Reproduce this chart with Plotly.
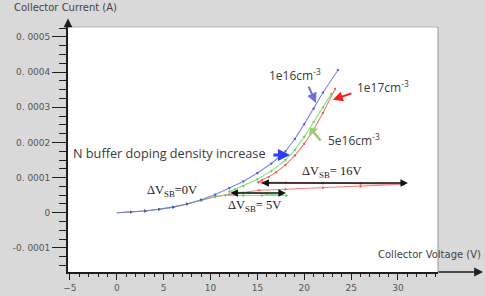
import plotly.graph_objects as go

# ---- data ----
blue_v = [0, 1.5, 3, 4.5, 6, 7.5, 9, 10.5, 12, 13.5, 15, 16.5, 18, 19, 20, 21, 22, 23.6]
blue_i = [0, 0.2e-5, 0.5e-5, 1.0e-5, 1.6e-5, 2.5e-5, 3.7e-5, 5.2e-5, 7.0e-5, 8.9e-5,
          11.3e-5, 14.0e-5, 17.5e-5, 21.0e-5, 25.2e-5, 29.6e-5, 34.2e-5, 40.6e-5]

green_v = [0, 1.5, 3, 4.5, 6, 7.5, 9, 10.5, 11.6, 13.5, 15.5, 18.1, 16, 14, 12,
           12.6, 13.5, 15, 16.5, 18, 19, 20, 21, 22, 22.9]
green_i = [0, 0.2e-5, 0.5e-5, 1.0e-5, 1.6e-5, 2.5e-5, 3.6e-5, 4.7e-5, 5.0e-5, 4.9e-5,
           4.9e-5, 4.9e-5, 5.4e-5, 5.7e-5, 6.0e-5, 6.7e-5, 7.6e-5, 9.5e-5, 11.9e-5,
           15.0e-5, 17.9e-5, 21.6e-5, 25.8e-5, 30.0e-5, 33.8e-5]

red_v = [0, 1.5, 3, 4.5, 6, 7.5, 9, 10.5, 12, 13.5, 15.2, 18, 22, 26, 30.6, 26, 22,
         18, 15.5, 15.1, 15.5, 16.2, 17, 18, 19, 20, 21, 22, 23.3]
red_i = [0, 0.2e-5, 0.5e-5, 1.0e-5, 1.6e-5, 2.5e-5, 3.6e-5, 4.6e-5, 5.2e-5, 5.7e-5,
         6.4e-5, 6.7e-5, 7.1e-5, 7.5e-5, 8.1e-5, 8.3e-5, 8.4e-5, 8.5e-5, 8.5e-5,
         8.7e-5, 9.3e-5, 10.2e-5, 11.5e-5, 13.6e-5, 16.3e-5, 19.6e-5, 23.6e-5,
         28.4e-5, 35.2e-5]

x_ticks = [-5, 0, 5, 10, 15, 20, 25, 30]
y_ticks = [-0.0001, 0, 0.0001, 0.0002, 0.0003, 0.0004, 0.0005]
y_ticktext = ["-0. 0001", "0", "0. 0001", "0. 0002", "0. 0003", "0. 0004", "0. 0005"]

GRAY = "#d9d9d9"
AX = "#1e1e1e"

fig = go.Figure()

def curve(v, i, color, mcolor):
    fig.add_trace(go.Scatter(
        x=v, y=i, mode="lines+markers",
        line=dict(color=color, width=1.1),
        marker=dict(symbol="triangle-up", size=3, color=mcolor, angleref="previous"),
        hoverinfo="skip", showlegend=False))

curve(red_v, red_i, "rgba(240,90,90,0.8)", "rgba(225,60,60,0.8)")
curve(green_v, green_i, "rgba(110,225,110,0.9)", "rgba(70,205,70,0.85)")
curve(blue_v, blue_i, "rgba(110,110,235,0.85)", "rgba(60,60,205,0.85)")

TXT = dict(family="Open Sans", size=12, color="#3a3a3a")
SERIF = dict(family="Liberation Serif", size=12.5, color="#222")

ann = []
def arrow(hx, hy, tx, ty, color, width, head=2, side="end", size=1):
    ann.append(dict(x=hx, y=hy, ax=tx, ay=ty, xref="x", yref="y", axref="x", ayref="y",
                    text="", showarrow=True, arrowhead=head, arrowside=side,
                    arrowcolor=color, arrowwidth=width, arrowsize=size,
                    startarrowhead=head, startarrowsize=size, standoff=0, startstandoff=0))

def label(x, y, text, font, xanchor="center"):
    ann.append(dict(x=x, y=y, xref="x", yref="y", text=text, showarrow=False,
                    font=font, xanchor=xanchor, yanchor="middle"))

label(19.0, 3.92e-4, "1e16cm<sup>-3</sup>", TXT)
label(28.4, 3.58e-4, "1e17cm<sup>-3</sup>", TXT)
label(25.3, 2.07e-4, "5e16cm<sup>-3</sup>", TXT)
label(-4.85, 1.70e-4, "N buffer doping density increase",
      dict(family="Open Sans", size=12.7, color="#3a3a3a"), xanchor="left")
label(5.88, 6.2e-5, "ΔV<sub>SB</sub>=0V", SERIF)
label(14.74, 2.0e-5, "ΔV<sub>SB</sub>= 5V", SERIF)
label(22.95, 1.16e-4, "ΔV<sub>SB</sub>= 16V", SERIF)

arrow(21.25, 3.12e-4, 20.4, 3.63e-4, "#6f6fe0", 2)
arrow(23.05, 3.21e-4, 25.19, 3.41e-4, "#ee2222", 2)
arrow(20.6, 2.41e-4, 21.88, 2.01e-4, "#9acb72", 2.5, head=1, size=0.8)
arrow(18.47, 1.64e-4, 16.55, 1.64e-4, "#2e3ef0", 3, size=0.8)
arrow(18.04, 5.63e-5, 11.96, 5.63e-5, "#111", 1.5, side="end+start")
arrow(31.06, 8.47e-5, 15.27, 8.47e-5, "#111", 1.5, side="end+start")

# axis arrows / titles (paper coords)
ann.append(dict(x=1.1216, y=0, xref="paper", yref="paper", ax=-46, ay=0, text="",
                showarrow=True, arrowhead=2, arrowsize=1.1, arrowwidth=1.6,
                arrowcolor=AX, standoff=0))
ann.append(dict(x=0, y=1.035, xref="paper", yref="paper", ax=0, ay=10, text="",
                showarrow=True, arrowhead=2, arrowsize=1.1, arrowwidth=1.6,
                arrowcolor=AX, standoff=0))
ann.append(dict(x=-0.151, y=1.0816, xref="paper", yref="paper", text="Collector Current (A)",
                showarrow=False, xanchor="left", yanchor="middle",
                font=dict(family="DejaVu Sans", size=10, color="#444")))
ann.append(dict(x=1.1216, y=0.0694, xref="paper", yref="paper", text="Collector Voltage (V)",
                showarrow=False, xanchor="right", yanchor="middle",
                font=dict(family="DejaVu Sans", size=10, color="#444")))

shapes = [
    dict(type="line", xref="paper", yref="paper", x0=0, x1=1, y0=1, y1=1,
         line=dict(color="#b5b5b5", width=1)),
    dict(type="line", xref="paper", yref="paper", x0=1, x1=1, y0=0, y1=1,
         line=dict(color="#9a9a9a", width=1)),
]

fig.update_layout(
    width=485, height=296, autosize=False,
    margin=dict(l=68, r=47, t=27, b=24, autoexpand=False),
    paper_bgcolor=GRAY, plot_bgcolor="white",
    annotations=ann, shapes=shapes,
    xaxis=dict(range=[-5.21, 34.27], tickvals=x_ticks, showgrid=False, zeroline=False,
               automargin=False,
               showline=True, linecolor=AX, linewidth=1.6, ticks="outside", ticklen=6,
               tickcolor=AX, tickwidth=1.2,
               tickfont=dict(family="DejaVu Sans", size=9, color="#555"),
               minor=dict(dtick=1, tick0=0, ticks="outside", ticklen=3, tickcolor=AX,
                          tickwidth=1)),
    yaxis=dict(range=[-0.0001683, 0.000528], tickvals=y_ticks, ticktext=y_ticktext,
               automargin=False,
               showgrid=False, zeroline=False, showline=True, linecolor=AX, linewidth=1.8,
               ticks="outside", ticklen=14, tickcolor=AX, tickwidth=1.2,
               tickfont=dict(family="DejaVu Sans", size=9, color="#555"),
               minor=dict(dtick=0.000025, tick0=0, ticks="outside", ticklen=7,
                          tickcolor=AX, tickwidth=1)),
)

fig.write_html("out.html")
